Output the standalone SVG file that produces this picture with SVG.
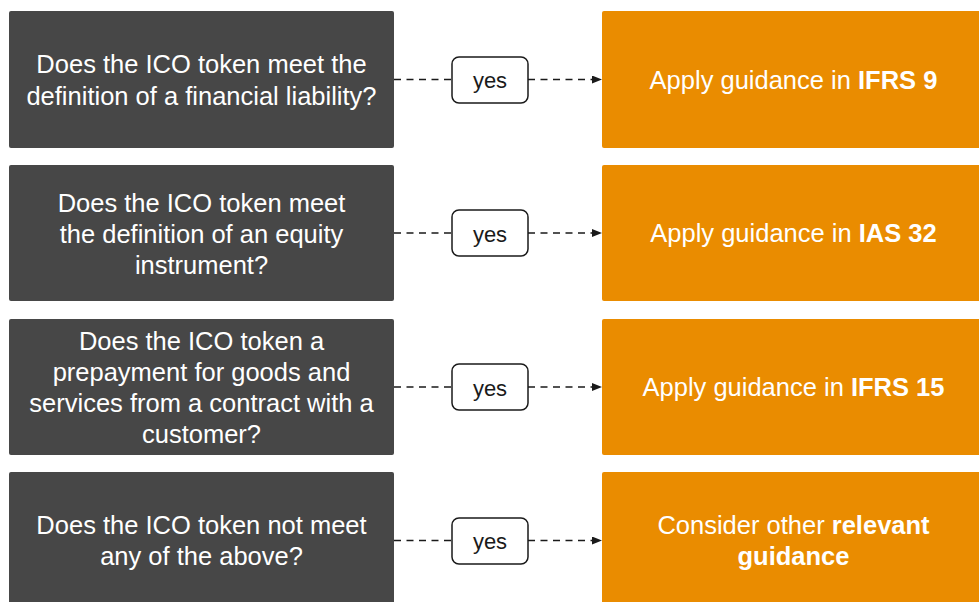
<svg xmlns="http://www.w3.org/2000/svg" width="979" height="602" viewBox="0 0 979 602">
<style>
.q{fill:#474747}
.a{fill:#EA8C00}
.t{font-family:"Liberation Sans",Arial,sans-serif;font-size:25.5px;fill:#ffffff;text-anchor:middle}
.b{font-weight:bold}
.y{fill:#ffffff;stroke:#1a1a1a;stroke-width:1.5}
.yt{font-family:"Liberation Sans",Arial,sans-serif;font-size:22px;fill:#1a1a1a;text-anchor:middle}
.c{stroke:#1a1a1a;stroke-width:1.4;stroke-dasharray:7 5.5;fill:none}
</style>
<defs>
<marker id="arr" markerWidth="10" markerHeight="8" refX="10" refY="4" orient="auto" markerUnits="userSpaceOnUse">
<path d="M0,0 L10,4 L0,8 Z" fill="#1a1a1a"/>
</marker>
</defs>
<rect width="979" height="602" fill="#ffffff"/>

<g id="q1"><rect class="q" x="9" y="11" width="385" height="137" rx="2"/>
<text class="t" x="201.5" y="73">Does the ICO token meet the</text>
<text class="t" x="201.5" y="104.5">definition of a financial liability?</text></g>

<g id="q2"><rect class="q" x="9" y="165" width="385" height="136" rx="2"/>
<text class="t" x="201.5" y="212">Does the ICO token meet</text>
<text class="t" x="201.5" y="243">the definition of an equity</text>
<text class="t" x="201.5" y="274">instrument?</text></g>

<g id="q3"><rect class="q" x="9" y="319" width="385" height="136" rx="2"/>
<text class="t" x="201.5" y="350">Does the ICO token a</text>
<text class="t" x="201.5" y="381">prepayment for goods and</text>
<text class="t" x="201.5" y="412">services from a contract with a</text>
<text class="t" x="201.5" y="443">customer?</text></g>

<g id="q4"><rect class="q" x="9" y="472" width="385" height="136" rx="2"/>
<text class="t" x="201.5" y="534">Does the ICO token not meet</text>
<text class="t" x="201.5" y="565">any of the above?</text></g>

<g id="a1"><rect class="a" x="602" y="11" width="383" height="137" rx="2"/>
<text class="t" x="793.5" y="88.5">Apply guidance in <tspan class="b">IFRS 9</tspan></text></g>

<g id="a2"><rect class="a" x="602" y="165" width="383" height="136" rx="2"/>
<text class="t" x="793.5" y="242">Apply guidance in <tspan class="b">IAS 32</tspan></text></g>

<g id="a3"><rect class="a" x="602" y="319" width="383" height="136" rx="2"/>
<text class="t" x="793.5" y="396">Apply guidance in <tspan class="b">IFRS 15</tspan></text></g>

<g id="a4"><rect class="a" x="602" y="472" width="383" height="136" rx="2"/>
<text class="t" x="793.5" y="534">Consider other <tspan class="b">relevant</tspan></text>
<text class="t b" x="793.5" y="565">guidance</text></g>

<g id="connectors">
<path class="c" d="M394,79.5 H452"/>
<path class="c" d="M528,79.5 H602" marker-end="url(#arr)"/>
<path class="c" d="M394,233 H452"/>
<path class="c" d="M528,233 H602" marker-end="url(#arr)"/>
<path class="c" d="M394,387 H452"/>
<path class="c" d="M528,387 H602" marker-end="url(#arr)"/>
<path class="c" d="M394,540.5 H452"/>
<path class="c" d="M528,540.5 H602" marker-end="url(#arr)"/>
</g>

<g id="yes1"><rect class="y" x="452" y="57" width="76" height="46" rx="7"/><text class="yt" x="490" y="88">yes</text></g>
<g id="yes2"><rect class="y" x="452" y="210" width="76" height="46" rx="7"/><text class="yt" x="490" y="241.5">yes</text></g>
<g id="yes3"><rect class="y" x="452" y="364" width="76" height="46" rx="7"/><text class="yt" x="490" y="395.5">yes</text></g>
<g id="yes4"><rect class="y" x="452" y="518" width="76" height="46" rx="7"/><text class="yt" x="490" y="549">yes</text></g>
</svg>
